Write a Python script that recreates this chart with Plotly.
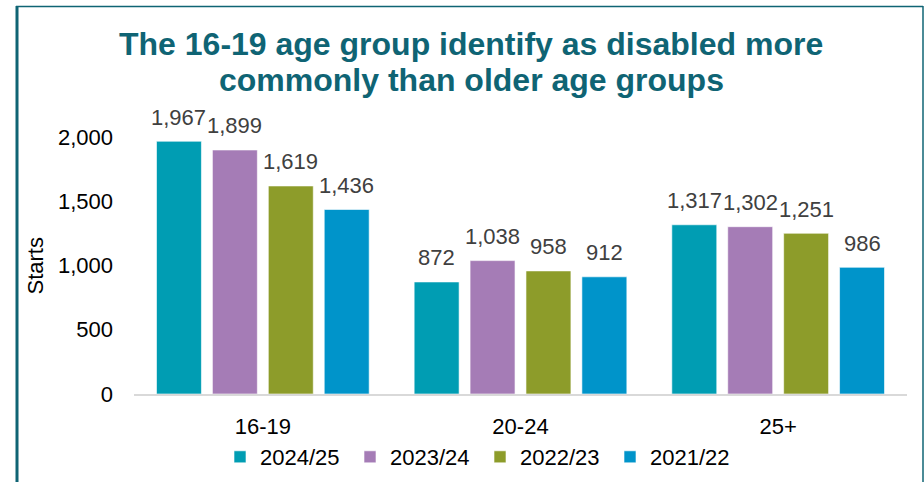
import plotly.graph_objects as go

# Apprenticeship starts by age group, split by academic year
age_groups = ["16-19", "20-24", "25+"]
years = ["2024/25", "2023/24", "2022/23", "2021/22"]
starts_2024_25 = [1967, 872, 1317]
starts_2023_24 = [1899, 1038, 1302]
starts_2022_23 = [1619, 958, 1251]
starts_2021_22 = [1436, 912, 986]
series_values = [starts_2024_25, starts_2023_24, starts_2022_23, starts_2021_22]
colors = ["#009DB3", "#A57CB6", "#8D9C2A", "#0094CA"]
y_ticks = [0, 500, 1000, 1500, 2000]
title_lines = ["The 16-19 age group identify as disabled more",
               "commonly than older age groups"]

W, H = 924, 482
M_L, M_R, M_T, M_B = 134, 17, 137, 88
plot_w = W - M_L - M_R
plot_h = H - M_T - M_B

BARGAP = 0.132
GROUPGAP = 0.196
FONT = "Liberation Sans, Arial"
TXT = 22

fig = go.Figure()
for name, vals, col in zip(years, series_values, colors):
    fig.add_trace(go.Bar(
        name=name, x=age_groups, y=vals,
        marker=dict(color=col, line=dict(color="rgba(255,255,255,0.6)", width=1)),
    ))

# value labels above each bar, offset to the bar's slot within its group
cat_px = plot_w / len(age_groups)
slot_px = cat_px * (1 - BARGAP) / len(years)
annotations = []
for i, vals in enumerate(series_values):
    dx = (i - (len(years) - 1) / 2) * slot_px
    for cat, v in zip(age_groups, vals):
        annotations.append(dict(
            x=cat, y=v, xref="x", yref="y", text=f"{v:,}", showarrow=False,
            xshift=dx, yshift=24, yanchor="middle",
            font=dict(family=FONT, size=TXT, color="#404040"),
        ))


def px_x(px):
    return (px - M_L) / plot_w


def px_y(py):
    return (H - M_B - py) / plot_h


# two-line title, each line placed separately for tighter line spacing
for line, ypx in zip(title_lines, [44.5, 80.5]):
    annotations.append(dict(
        text=f"<b>{line}</b>",
        xref="paper", yref="paper", x=px_x(471), y=px_y(ypx),
        showarrow=False, xanchor="center", yanchor="middle",
        font=dict(family=FONT, size=32, color="#0F6474"),
    ))
annotations.append(dict(
    text="Starts", textangle=-90, xref="paper", yref="paper",
    x=px_x(35), y=0.5, showarrow=False,
    xanchor="center", yanchor="middle",
    font=dict(family=FONT, size=TXT, color="#000000"),
))

# frame around the chart
frame_col = "#0F6474"
shapes = [
    dict(type="line", xref="paper", yref="paper", x0=px_x(17), x1=px_x(17),
         y0=px_y(6), y1=px_y(H + 10), line=dict(color=frame_col, width=3)),
    dict(type="line", xref="paper", yref="paper", x0=px_x(16), x1=px_x(923),
         y0=px_y(6.5), y1=px_y(6.5), line=dict(color=frame_col, width=1.5)),
    dict(type="line", xref="paper", yref="paper", x0=px_x(923), x1=px_x(923),
         y0=px_y(6), y1=px_y(H + 10), line=dict(color=frame_col, width=1.5)),
]

fig.update_layout(
    width=W, height=H,
    margin=dict(l=M_L, r=M_R, t=M_T, b=M_B, autoexpand=False),
    paper_bgcolor="white", plot_bgcolor="white",
    barmode="group", bargap=BARGAP, bargroupgap=GROUPGAP,
    font=dict(family=FONT, size=TXT, color="#000000"),
    annotations=annotations, shapes=shapes,
    showlegend=True,
    legend=dict(
        orientation="h", xref="paper", yref="paper",
        x=px_x(220), y=px_y(457), xanchor="left", yanchor="middle",
        font=dict(size=TXT, color="#000000"),
        entrywidth=85, entrywidthmode="pixels",
        itemwidth=30, traceorder="normal",
        bgcolor="rgba(0,0,0,0)",
    ),
    xaxis=dict(
        showline=True, linecolor="#D9D9D9", linewidth=2,
        ticks="", ticklabelstandoff=12,
        tickfont=dict(size=TXT, color="#000000"),
        fixedrange=True,
    ),
    yaxis=dict(
        range=[0, 2000], tickvals=y_ticks, tickformat=",",
        showgrid=False, zeroline=False, showline=False, ticks="",
        ticklabelstandoff=20,
        tickfont=dict(size=TXT, color="#000000"),
        fixedrange=True,
    ),
)

fig.write_html("out.html")
